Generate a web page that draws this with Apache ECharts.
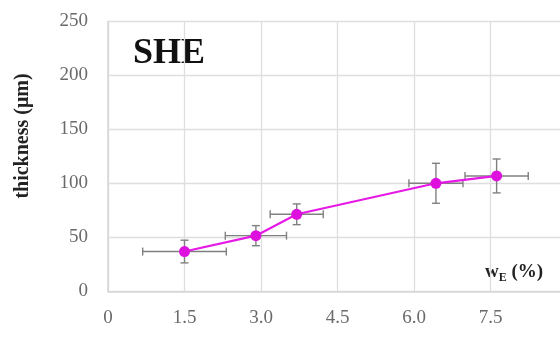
<!DOCTYPE html>
<html>
<head>
<meta charset="utf-8">
<script src="https://cdn.jsdelivr.net/npm/echarts@6/dist/echarts.min.js"></script>
<style>
  html, body { margin: 0; padding: 0; background: #fff; }
  #chart { width: 560px; height: 337px; }
</style>
</head>
<body>
<div id="chart"></div>
<script>
// Shrinkage-layer thickness versus w_E, with error bars in both directions
const wE = [1.50, 2.90, 3.70, 6.43, 7.62];          // x, %
const thickness = [37.0, 51.7, 71.5, 100.2, 107.0]; // y, µm
const thicknessErr = [10.5, 9.3, 9.6, 18.5, 15.7];  // ± µm
const wEErr = [0.82, 0.60, 0.52, 0.53, 0.62];       // ± %
const xTicks = [0, 1.5, 3.0, 4.5, 6.0, 7.5];
const yTicks = [0, 50, 100, 150, 200, 250];

const serif = '"Liberation Serif", "DejaVu Serif", serif';
const points = wE.map((x, i) => [x, thickness[i]]);
const errData = wE.map((x, i) => [x, thickness[i], wEErr[i], thicknessErr[i]]);

function renderErr(params, api) {
  const x = api.value(0), y = api.value(1), ex = api.value(2), ey = api.value(3);
  const c = api.coord([x, y]);
  const l = api.coord([x - ex, y]);
  const r = api.coord([x + ex, y]);
  const t = api.coord([x, y + ey]);
  const b = api.coord([x, y - ey]);
  const cap = 4;
  const style = { stroke: '#808080', lineWidth: 1.4 };
  const seg = (x1, y1, x2, y2) => ({ type: 'line', shape: { x1, y1, x2, y2 }, style });
  return {
    type: 'group',
    children: [
      seg(l[0], c[1], r[0], c[1]),
      seg(l[0], c[1] - cap, l[0], c[1] + cap),
      seg(r[0], c[1] - cap, r[0], c[1] + cap),
      seg(c[0], t[1], c[0], b[1]),
      seg(c[0] - cap, t[1], c[0] + cap, t[1]),
      seg(c[0] - cap, b[1], c[0] + cap, b[1])
    ]
  };
}

const chart = echarts.init(document.getElementById('chart'), null, { renderer: 'canvas' });
chart.setOption({
  animation: false,
  backgroundColor: '#ffffff',
  // plot runs on past the right edge of the page (x max 9.0 sits off-canvas)
  grid: { left: 108, top: 21.5, width: 459, height: 270, containLabel: false, outerBoundsMode: 'none' },
  xAxis: {
    type: 'value', min: 0, max: 9, interval: 1.5,
    axisLine: { show: true, lineStyle: { color: '#d6d6d6', width: 1.5 } },
    axisTick: { show: false },
    splitLine: { show: true, lineStyle: { color: '#dedede', width: 1.3 } },
    axisLabel: {
      margin: 17, color: '#6a6a6a', fontFamily: serif, fontSize: 19,
      formatter: v => (xTicks.indexOf(v) >= 0 ? (v === 0 ? '0' : v.toFixed(1)) : '')
    }
  },
  yAxis: {
    type: 'value', min: 0, max: 250, interval: 50,
    axisLine: { show: true, lineStyle: { color: '#d6d6d6', width: 1.5 } },
    axisTick: { show: false },
    splitLine: { show: true, lineStyle: { color: '#dedede', width: 1.3 } },
    axisLabel: {
      margin: 20, color: '#6a6a6a', fontFamily: serif, fontSize: 19,
      formatter: v => (yTicks.indexOf(v) >= 0 ? String(v) : '')
    }
  },
  graphic: [
    {
      type: 'text', left: 133, top: 36,
      style: { text: 'SHE', fill: '#111', font: 'bold 36px ' + serif }
    },
    {
      type: 'text', x: 23, y: 136, rotation: Math.PI / 2,
      style: {
        text: 'thickness (μm)', fill: '#222', font: 'bold 20px ' + serif,
        align: 'center', verticalAlign: 'middle'
      }
    },
    {
      type: 'text', left: 485, top: 263,
      style: {
        text: '{w|w}{s|E}{w| (%)}',
        rich: {
          w: { font: 'bold 19px ' + serif, fill: '#222' },
          s: { font: 'bold 12px ' + serif, fill: '#222', padding: [10, 0, 0, 0] }
        }
      }
    }
  ],
  series: [
    {
      type: 'custom', renderItem: renderErr, data: errData,
      encode: { x: 0, y: 1 }, z: 1, silent: true
    },
    {
      type: 'line', data: points, z: 3,
      lineStyle: { color: '#e619e6', width: 2.2 },
      itemStyle: { color: '#dd10dd' },
      symbol: 'circle', symbolSize: 11
    }
  ]
});
</script>
</body>
</html>
